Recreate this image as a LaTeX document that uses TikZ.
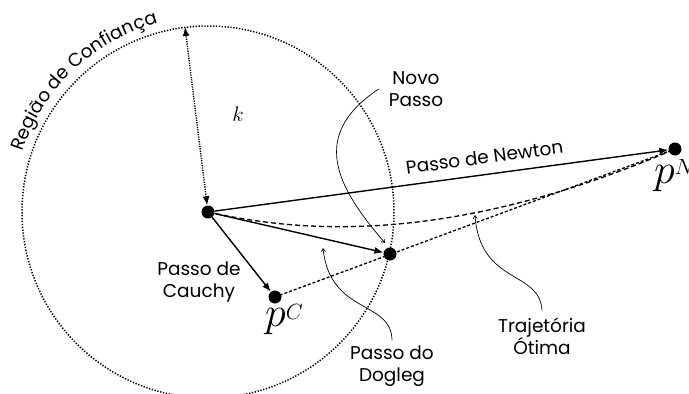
\RequirePackage{fix-cm}
\documentclass[tikz,border=0pt]{standalone}
\usepackage{fontspec}
\setmainfont{Poppins}
\usetikzlibrary{arrows.meta,decorations.text}
\tikzset{
 dotnode/.style={circle,fill=black,inner sep=0pt,minimum size=13pt},
 mainarrow/.style={line width=1.4pt,-{Latex[length=9pt,width=7pt]}},
 region/.style={line width=1.5pt,dash pattern=on 1.3pt off 1.6pt},
 radiusarrow/.style={line width=1.4pt,dash pattern=on 1.2pt off 1.2pt,{Latex[length=9pt,width=7pt]}-{Latex[length=9pt,width=7pt]}},
 trajline/.style={line width=1.3pt,dash pattern=on 5pt off 3pt},
 doglegline/.style={line width=1.3pt,dash pattern=on 3pt off 2pt},
 pointer/.style={line width=0.7pt,-{Straight Barb[length=3pt,width=4pt]}},
 lab/.style={font=\fontsize{18.5}{22}\selectfont,align=center,inner sep=0pt},
}
\begin{document}
\begin{tikzpicture}[x=1pt,y=-1pt]
\useasboundingbox (0,0) rectangle (689,394);
\coordinate (c) at (208,212);
\coordinate (toppt) at (185,27);
\draw[region] (c) circle[radius=186];
\path[decorate, decoration={text along path, text={|\fontsize{18.5}{22}\selectfont|Região de Confiança}}] (c) ++(-162:195) arc[start angle=-162, end angle=-100, radius=195];

\node[dotnode] (x0) at (208,212) {};
\node[dotnode] (pc) at (275,297) {};
\node[dotnode] (pd) at (390,254) {};
\node[dotnode] (pn) at (675,149) {};

\draw[trajline] (x0.center) .. controls (290,230) and (440,250) .. (pn.center);
\draw[doglegline] (pc.center) -- (pn.center);
\draw[mainarrow] (x0) -- (pn) node[lab, sloped, above=10pt, pos=0.6] (newton) {Passo de Newton};
\draw[mainarrow] (x0) -- (pd);
\draw[mainarrow] (x0) -- (pc);
\draw[radiusarrow] (x0) -- (toppt);

\node[lab] (cauchy) at (199,282) {Passo de\\Cauchy};
\node[lab] (novo) at (416,89) {Novo\\Passo};
\node[lab] (dogleg) at (392,366) {Passo do\\Dogleg};
\node[lab] (traj) at (542,336) {Trajetória\\Ótima};
\node (k) at (238,114) {\fontsize{21}{21}\selectfont$k$};
\node[anchor=base west, inner sep=0pt] (pclab) at (265,326) {\fontsize{42}{42}\selectfont$p$\raisebox{7pt}{\fontsize{22}{22}\selectfont$C$}};
\node[anchor=base west, inner sep=0pt] (pnlab) at (654,183) {\fontsize{42}{42}\selectfont$p$\raisebox{9pt}{\fontsize{22}{22}\selectfont$N$}};

\coordinate (novotip) at (385,243);
\coordinate (dogtip) at (323,248);
\coordinate (trajtip) at (475,215);
\draw[pointer] ([xshift=-10pt]novo.west) .. controls (310,135) and (335,185) .. (novotip);
\draw[pointer] ([yshift=5pt]dogleg.north) .. controls (392,300) and (330,315) .. (dogtip);
\draw[pointer] ([yshift=7pt]traj.north) .. controls (540,270) and (480,285) .. (trajtip);
\end{tikzpicture}
\end{document}
